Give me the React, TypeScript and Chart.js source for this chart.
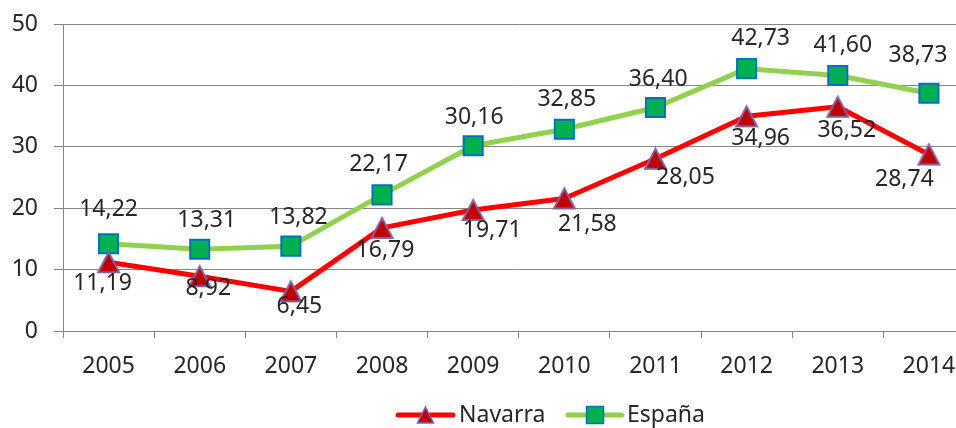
import React, { useEffect, useRef } from "react";
import { Chart, registerables } from "chart.js";

Chart.register(...registerables);

const categories = ["2005", "2006", "2007", "2008", "2009", "2010", "2011", "2012", "2013", "2014"];
const navarraValues = [11.19, 8.92, 6.45, 16.79, 19.71, 21.58, 28.05, 34.96, 36.52, 28.74];
const espanaValues = [14.22, 13.31, 13.82, 22.17, 30.16, 32.85, 36.4, 42.73, 41.6, 38.73];
const yTicks = [0, 10, 20, 30, 40, 50];
const seriesNames = ["Navarra", "España"];

// label placement (style, pixels relative to each point)
const navarraLabelOffsets: [number, number][] = [
  [-6, 21], [8.5, 12.5], [8.5, 15], [3, 23], [19, 20], [23, 26], [30, 19], [14, 22], [9, 24], [-24.5, 24.5],
];
const espanaLabelOffsets: [number, number][] = [
  [0, -34], [7, -29], [7.5, -29], [-3.5, -30], [1, -28], [2.5, -30], [2.7, -28], [14, -30], [5, -30.6], [-11, -38],
];

const FONT = "'Noto Sans', 'DejaVu Sans', sans-serif";
const TEXT = "#262626";
const GRID = "#868686";

const NAV_FILL = "#C00000";
const NAV_EDGE = "#8064A2";
const ESP_FILL = "#00B050";
const ESP_EDGE = "#0070C0";

const legendLayout = [
  { x1: 398, x2: 453, mx: 425.5, tx: 459, marker: "triangle" },
  { x1: 568, x2: 622, mx: 595, tx: 627, marker: "square" },
];
const LEGEND_Y = 415;

const fmt = (v: number) => v.toFixed(2).replace(".", ",");

function makeTriangle(w: number, h: number, fill: string, edge: string, lw: number) {
  const c = document.createElement("canvas");
  const pad = lw + 1;
  c.width = Math.ceil(w + pad * 2);
  c.height = Math.ceil(h + pad * 2);
  const g = c.getContext("2d")!;
  const cx = c.width / 2;
  const cy = c.height / 2;
  g.beginPath();
  g.moveTo(cx, cy - h / 2);
  g.lineTo(cx + w / 2, cy + h / 2);
  g.lineTo(cx - w / 2, cy + h / 2);
  g.closePath();
  g.fillStyle = fill;
  g.fill();
  g.lineJoin = "miter";
  g.strokeStyle = edge;
  g.lineWidth = lw;
  g.stroke();
  return c;
}

const labelPlugin = {
  id: "pointLabels",
  afterDatasetsDraw(chart: any) {
    const ctx = chart.ctx;
    ctx.save();
    ctx.font = `23px ${FONT}`;
    ctx.fillStyle = TEXT;
    ctx.textAlign = "center";
    ctx.textBaseline = "middle";
    chart.data.datasets.forEach((ds: any, di: number) => {
      const meta = chart.getDatasetMeta(di);
      const offs = ds.labelOffsets as [number, number][];
      meta.data.forEach((pt: any, i: number) => {
        const [dx, dy] = offs[i];
        ctx.fillText(fmt(ds.data[i]), pt.x + dx, pt.y + dy);
      });
    });
    ctx.restore();
  },
};

const legendPlugin = {
  id: "lineLegend",
  afterDraw(chart: any) {
    const ctx = chart.ctx;
    ctx.save();
    chart.data.datasets.forEach((ds: any, di: number) => {
      const L = legendLayout[di];
      const y = LEGEND_Y;
      ctx.strokeStyle = ds.borderColor;
      ctx.lineWidth = ds.borderWidth;
      ctx.lineCap = "round";
      ctx.beginPath();
      ctx.moveTo(L.x1, y);
      ctx.lineTo(L.x2, y);
      ctx.stroke();
      ctx.fillStyle = ds.markerFill;
      ctx.strokeStyle = ds.markerEdge;
      ctx.lineWidth = 1.5;
      ctx.beginPath();
      if (L.marker === "triangle") {
        const w = 16;
        const h = 16;
        ctx.moveTo(L.mx, y - h / 2);
        ctx.lineTo(L.mx + w / 2, y + h / 2);
        ctx.lineTo(L.mx - w / 2, y + h / 2);
        ctx.closePath();
      } else {
        const h = 8.5;
        ctx.rect(L.mx - h, y - h, 2 * h, 2 * h);
      }
      ctx.fill();
      ctx.stroke();
      ctx.fillStyle = TEXT;
      ctx.font = `23px ${FONT}`;
      ctx.textAlign = "left";
      ctx.textBaseline = "middle";
      ctx.fillText(ds.label, L.tx, y);
    });
    ctx.restore();
  },
};

export default function App() {
  const canvasRef = useRef<HTMLCanvasElement | null>(null);

  useEffect(() => {
    if (!canvasRef.current) return;
    const triangleImg = makeTriangle(21, 20, NAV_FILL, NAV_EDGE, 2);
    const chart = new Chart(canvasRef.current, {
      type: "line",
      data: {
        labels: categories,
        datasets: [
          {
            label: seriesNames[0],
            data: navarraValues,
            borderColor: "#FF0000",
            borderWidth: 5,
            borderJoinStyle: "round",
            borderCapStyle: "round",
            pointStyle: triangleImg,
            pointRadius: 12,
            pointBackgroundColor: NAV_FILL,
            pointBorderColor: NAV_EDGE,
            pointBorderWidth: 2,
            tension: 0,
            fill: false,
            labelOffsets: navarraLabelOffsets,
            markerFill: NAV_FILL,
            markerEdge: NAV_EDGE,
          } as any,
          {
            label: seriesNames[1],
            data: espanaValues,
            borderColor: "#92D050",
            borderWidth: 5,
            borderJoinStyle: "round",
            borderCapStyle: "round",
            pointStyle: "rect",
            pointRadius: 13.5,
            pointBackgroundColor: ESP_FILL,
            pointBorderColor: ESP_EDGE,
            pointBorderWidth: 2,
            tension: 0,
            fill: false,
            labelOffsets: espanaLabelOffsets,
            markerFill: ESP_FILL,
            markerEdge: ESP_EDGE,
          } as any,
        ],
      },
      options: {
        animation: false,
        responsive: false,
        events: [],
        layout: { padding: { left: 0, right: 7, top: 24, bottom: 45 } },
        plugins: {
          legend: { display: false },
          tooltip: { enabled: false },
        },
        scales: {
          x: {
            type: "category",
            offset: true,
            grid: {
              display: true,
              drawOnChartArea: false,
              drawTicks: true,
              tickLength: 7,
              color: GRID,
              offset: true,
            },
            border: { display: true, color: GRID, width: 1 },
            ticks: {
              font: { family: FONT, size: 23 },
              color: TEXT,
              padding: 15,
              maxRotation: 0,
              autoSkip: false,
            },
            afterFit(scale: any) {
              scale.height = 52;
              scale.paddingLeft = 0;
              scale.paddingRight = 0;
            },
          },
          y: {
            type: "linear",
            min: 0,
            max: 50,
            afterBuildTicks(scale: any) {
              scale.ticks = yTicks.map((v) => ({ value: v }));
            },
            grid: {
              color: GRID,
              lineWidth: 1,
              tickLength: 9,
              drawTicks: true,
            },
            border: { display: true, color: GRID, width: 1 },
            ticks: {
              font: { family: FONT, size: 23 },
              color: TEXT,
              padding: 16,
              callback: (v: any) => String(v),
            },
            afterFit(scale: any) {
              scale.width = 63;
              scale.paddingTop = 0;
              scale.paddingBottom = 0;
            },
          },
        },
      },
      plugins: [labelPlugin, legendPlugin],
    });
    return () => chart.destroy();
  }, []);

  return (
    <div
      style={{
        position: "fixed",
        left: 0,
        top: 0,
        width: 956,
        height: 428,
        overflow: "hidden",
        background: "#ffffff",
      }}
    >
      <canvas ref={canvasRef} width={990} height={428} style={{ display: "block" }} />
    </div>
  );
}
